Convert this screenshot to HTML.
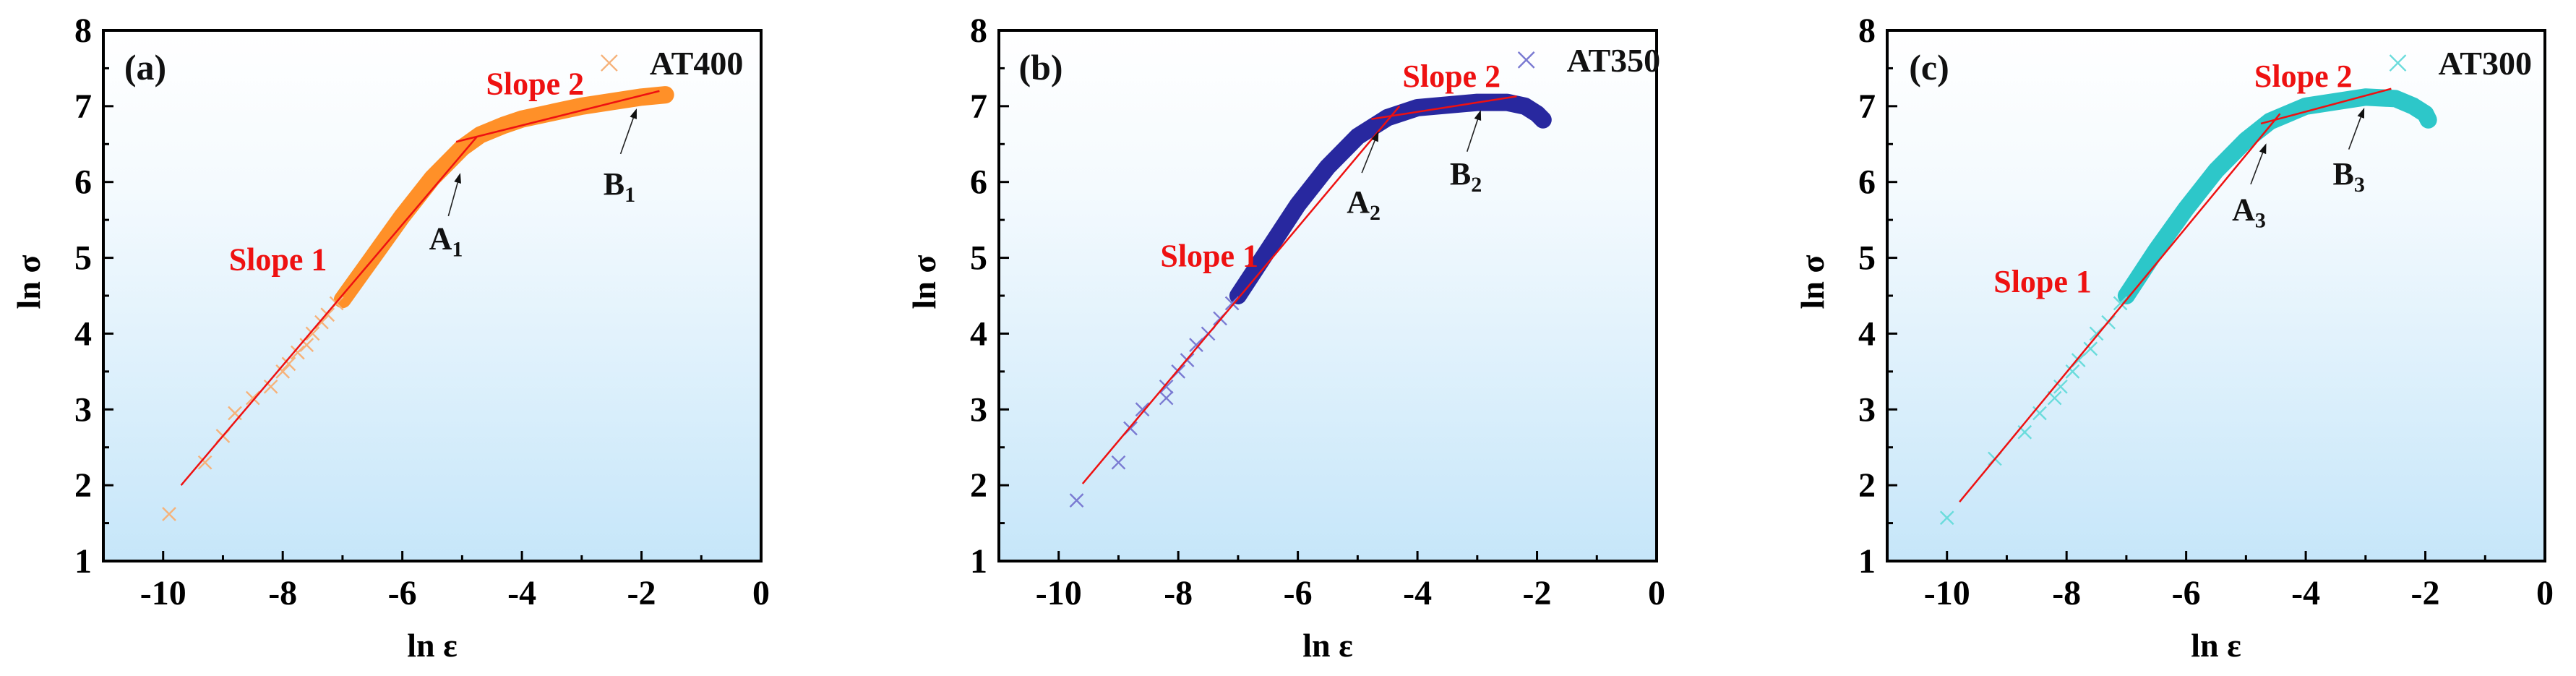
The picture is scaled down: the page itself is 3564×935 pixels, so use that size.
<!DOCTYPE html>
<html><head><meta charset="utf-8">
<style>
html,body{margin:0;padding:0;background:#fff;}
svg{display:block;}
text{font-family:"Liberation Serif",serif;font-weight:bold;}
</style></head>
<body>
<svg id="fig" width="3564" height="935" viewBox="0 0 3564 935" xmlns="http://www.w3.org/2000/svg">
<defs>
<linearGradient id="bg" x1="0" y1="0" x2="0" y2="1">
<stop offset="0" stop-color="#ffffff"/><stop offset="0.3" stop-color="#f4fafe"/><stop offset="1" stop-color="#c6e6f9"/>
</linearGradient>
</defs>
</svg>
<script>
// ---- data (ln ε, ln σ) ----
const xTicks = [-10,-8,-6,-4,-2,0];
const yTicks = [1,2,3,4,5,6,7,8];

const aSparseX = [-9.9,-9.3,-9.0,-8.8,-8.5,-8.2,-8.0,-7.9,-7.75,-7.6,-7.5,-7.35,-7.25,-7.1];
const aSparseY = [1.62,2.3,2.65,2.95,3.15,3.3,3.5,3.6,3.75,3.85,4.0,4.15,4.25,4.4];
const aBandX = [-7.0,-6.5,-6.0,-5.5,-5.0,-4.7,-4.3,-4.0,-3.0,-2.0,-1.6];
const aBandY = [4.45,5.0,5.55,6.05,6.45,6.62,6.75,6.83,7.0,7.12,7.15];
const aFit1 = [[-9.7,2.0],[-4.75,6.6]];
const aFit2 = [[-5.1,6.53],[-1.7,7.2]];

const bSparseX = [-9.7,-9.0,-8.8,-8.6,-8.2,-8.2,-8.0,-7.85,-7.7,-7.5,-7.3,-7.1];
const bSparseY = [1.8,2.3,2.75,3.0,3.15,3.3,3.5,3.65,3.85,4.0,4.2,4.4];
const bBandX = [-7.0,-6.5,-6.0,-5.5,-5.0,-4.5,-4.0,-3.0,-2.5,-2.2,-2.0,-1.9];
const bBandY = [4.5,5.1,5.7,6.2,6.6,6.85,6.98,7.05,7.05,7.0,6.9,6.82];
const bFit1 = [[-9.6,2.02],[-4.3,7.0]];
const bFit2 = [[-4.77,6.83],[-2.34,7.13]];

const cSparseX = [-10.0,-9.2,-8.7,-8.45,-8.2,-8.1,-7.9,-7.8,-7.6,-7.5,-7.3,-7.1];
const cSparseY = [1.57,2.35,2.7,2.95,3.15,3.3,3.5,3.65,3.8,4.0,4.15,4.4];
const cBandX = [-7.0,-6.5,-6.0,-5.5,-5.0,-4.6,-4.0,-3.0,-2.5,-2.2,-2.0,-1.95];
const cBandY = [4.5,5.1,5.65,6.15,6.55,6.8,7.0,7.12,7.1,7.0,6.9,6.82];
const cFit1 = [[-9.79,1.78],[-4.43,6.9]];
const cFit2 = [[-4.75,6.77],[-2.57,7.23]];

const panels = [
 {id:'a',left:143,label:'(a)',name:'AT400',sx:aSparseX,sy:aSparseY,bx:aBandX,by:aBandY,f1:aFit1,f2:aFit2,
  band:'#ff8a1c',mark:'#f6b27a',A:[-5.27,5.25],Aarr:[[-5.23,5.55],[-5.03,6.12]],B:[-2.37,5.97],Barr:[[-2.35,6.37],[-2.08,6.97]],
  s1:[-8.08,4.98],s2:[-3.78,7.3],leg:[-2.54,7.57],sub:'1'},
 {id:'b',left:1382,label:'(b)',name:'AT350',sx:bSparseX,sy:bSparseY,bx:bBandX,by:bBandY,f1:bFit1,f2:bFit2,
  band:'#1c1c9a',mark:'#7a7ad2',A:[-4.9,5.73],Aarr:[[-4.93,6.12],[-4.65,6.67]],B:[-3.19,6.1],Barr:[[-3.17,6.4],[-2.94,6.95]],
  s1:[-7.48,5.03],s2:[-3.43,7.4],leg:[-2.18,7.61],sub:'2'},
 {id:'c',left:2611,label:'(c)',name:'AT300',sx:cSparseX,sy:cSparseY,bx:cBandX,by:cBandY,f1:cFit1,f2:cFit2,
  band:'#22c4c6',mark:'#6adcdc',A:[-4.95,5.63],Aarr:[[-4.92,5.97],[-4.66,6.51]],B:[-3.28,6.1],Barr:[[-3.28,6.43],[-3.02,6.98]],
  s1:[-8.4,4.69],s2:[-4.04,7.4],leg:[-2.46,7.57],sub:'3'}
];

const NS='http://www.w3.org/2000/svg';
const svg=document.getElementById('fig');
function mk(tag,attrs,parent,txt){const e=document.createElementNS(NS,tag);for(const k in attrs)e.setAttribute(k,attrs[k]);if(txt!==undefined)e.textContent=txt;(parent||svg).appendChild(e);return e;}

const W=910, TOP=42, BOT=776;
panels.forEach(p=>{
  const X=v=>p.left+(v+11)/11*W;
  const Y=v=>BOT-(v-1)/7*(BOT-TOP);
  const g=mk('g',{});
  
  
  const bg=mk('rect',{x:p.left,y:TOP,width:W,height:BOT-TOP,fill:'url(#bg)'},g);
  
  
  xTicks.forEach(t=>{
    const tk=mk('line',{x1:X(t),x2:X(t),y1:BOT,y2:BOT-14,stroke:'#000','stroke-width':3},g);
    
    
    const m=mk('line',{x1:X(t-1),x2:X(t-1),y1:BOT,y2:BOT-8,stroke:'#000','stroke-width':3},g);
    
    
    const lb=mk('text',{x:X(t),y:836,'text-anchor':'middle','font-size':48},g,String(t));
    
    
  });
  yTicks.forEach(t=>{
    const tk=mk('line',{x1:p.left,x2:p.left+14,y1:Y(t),y2:Y(t),stroke:'#000','stroke-width':3},g);
    
    
    if(t<8){const m=mk('line',{x1:p.left,x2:p.left+8,y1:Y(t+0.5),y2:Y(t+0.5),stroke:'#000','stroke-width':3},g);
    
    }
    const lb=mk('text',{x:p.left-16,y:Y(t)+16,'text-anchor':'end','font-size':48},g,String(t));
    
    
  });
  const frame=mk('rect',{x:p.left,y:TOP,width:W,height:BOT-TOP,fill:'none',stroke:'#000','stroke-width':4},g);
  
  
  const band=mk('polyline',{points:p.bx.map((v,i)=>X(v)+','+Y(p.by[i])).join(' '),fill:'none',stroke:p.band,'stroke-width':24,'stroke-linecap':'round','stroke-linejoin':'round',opacity:0.95},g);
  
  
  p.sx.forEach((v,i)=>{
    const cx=X(v),cy=Y(p.sy[i]),s=9;
    const m=mk('path',{d:`M${cx-s},${cy-s}L${cx+s},${cy+s}M${cx-s},${cy+s}L${cx+s},${cy-s}`,stroke:p.mark,'stroke-width':2.4,fill:'none'},g);
    
    
  });
  [p.f1,p.f2].forEach((f,k)=>{
    const l=mk('line',{x1:X(f[0][0]),y1:Y(f[0][1]),x2:X(f[1][0]),y2:Y(f[1][1]),stroke:'#ee1111','stroke-width':2.5},g);
    
    
  });
  [p.Aarr,p.Barr].forEach((a,k)=>{
    const x1=X(a[0][0]),y1=Y(a[0][1]),x2=X(a[1][0]),y2=Y(a[1][1]);
    const ang=Math.atan2(y2-y1,x2-x1),L=14,w=5;
    const bx=x2-L*Math.cos(ang),by=y2-L*Math.sin(ang);
    const ln=mk('line',{x1:x1,y1:y1,x2:bx,y2:by,stroke:'#222','stroke-width':1.6},g);
    
    
    const hd=mk('polygon',{points:`${x2},${y2} ${bx+w*Math.sin(ang)},${by-w*Math.cos(ang)} ${bx-w*Math.sin(ang)},${by+w*Math.cos(ang)}`,fill:'#111'},g);
    
    
  });
  const mkSub=(pos,letter,nm)=>{
    const t=mk('text',{x:X(pos[0]),y:Y(pos[1])+14,'text-anchor':'middle','font-size':44,fill:'#111'},g);
    
    
    mk('tspan',{},t,letter);
    mk('tspan',{'font-size':30,dy:10},t,p.sub);
  };
  mkSub(p.A,'A','label-a-point');
  mkSub(p.B,'B','label-b-point');
  const s1=mk('text',{x:X(p.s1[0]),y:Y(p.s1[1])+15,'text-anchor':'middle','font-size':44,fill:'#ee1111'},g,'Slope 1');
  
  
  const s2=mk('text',{x:X(p.s2[0]),y:Y(p.s2[1])+15,'text-anchor':'middle','font-size':44,fill:'#ee1111'},g,'Slope 2');
  
  
  const lx=X(p.leg[0]),ly=Y(p.leg[1]),s=11;
  const lm=mk('path',{d:`M${lx-s},${ly-s}L${lx+s},${ly+s}M${lx-s},${ly+s}L${lx+s},${ly-s}`,stroke:p.mark,'stroke-width':2.4},g);
  
  
  const lt=mk('text',{x:lx+56,y:ly+16,'font-size':46,fill:'#111'},g,p.name);
  
  
  const pl=mk('text',{x:p.left+58,y:110,'text-anchor':'middle','font-size':50,fill:'#111'},g,p.label);
  
  
  const xt=mk('text',{x:p.left+W/2,y:908,'text-anchor':'middle','font-size':46},g,'ln  ε');
  
  
  const yt=mk('text',{x:0,y:0,'text-anchor':'middle','font-size':46,transform:`translate(${p.left-88},390) rotate(-90)`},g,'ln σ');
  
  
});
</script>
</body></html>
